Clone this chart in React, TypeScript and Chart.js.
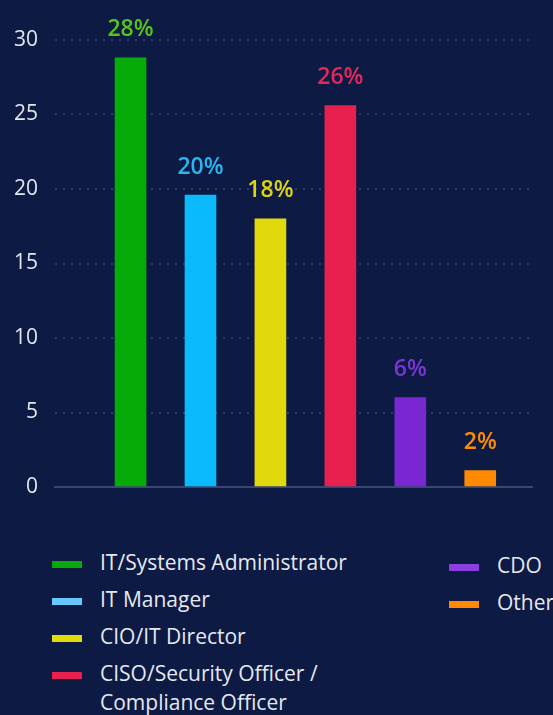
import React, { useEffect, useRef } from "react";
import { Chart, registerables } from "chart.js";

Chart.register(...registerables);

const categories = [
  "IT/Systems Administrator",
  "IT Manager",
  "CIO/IT Director",
  "CISO/Security Officer / Compliance Officer",
  "CDO",
  "Other",
];
const barValues = [28.8, 19.6, 18.0, 25.6, 6.0, 1.1];
const valueLabels = ["28%", "20%", "18%", "26%", "6%", "2%"];
const barColors = ["#07ab07", "#0bbafc", "#e0d90b", "#e8204e", "#7b27d1", "#ff8a00"];
const labelColors = ["#58c21c", "#2ab4f0", "#dbd40e", "#e3285a", "#7a35d6", "#ff8c00"];
const legendColors = ["#08a808", "#66c8ff", "#e0dc0a", "#e8204e", "#8b3fe3", "#ff8800"];
const yTicks = [0, 5, 10, 15, 20, 25, 30];

const BG = "#0c1a44";
const FONT = "'Open Sans', 'Noto Sans', sans-serif";

const valueLabelPlugin = {
  id: "valueLabels",
  afterDatasetsDraw(chart: any) {
    const ctx = chart.ctx;
    const meta = chart.getDatasetMeta(0);
    ctx.save();
    ctx.font = `600 23px ${FONT}`;
    ctx.textAlign = "center";
    ctx.textBaseline = "middle";
    meta.data.forEach((bar: any, i: number) => {
      ctx.fillStyle = labelColors[i];
      ctx.fillText(valueLabels[i], bar.x, bar.y - 28);
    });
    ctx.restore();
  },
};

function BarChart() {
  const ref = useRef<HTMLCanvasElement | null>(null);
  useEffect(() => {
    if (!ref.current) return;
    const chart = new Chart(ref.current, {
      type: "bar",
      data: {
        datasets: [
          {
            label: "Share",
            data: barValues.map((v, i) => ({ x: i, y: v })),
            backgroundColor: barColors,
            borderWidth: 0,
            barThickness: 31,
          },
        ],
      },
      options: {
        responsive: false,
        animation: false,
        layout: { padding: { top: 40, bottom: 33, left: 0, right: 21 } },
        plugins: { legend: { display: false }, tooltip: { enabled: false } },
        scales: {
          x: {
            type: "linear",
            offset: false,
            min: -1.08,
            max: 5.74,
            ticks: { display: false },
            grid: { display: false },
            border: { display: true, color: "#3a4670", width: 2 },
            afterFit: (s: any) => {
              s.height = 0;
            },
          },
          y: {
            min: 0,
            max: 30,
            afterBuildTicks: (s: any) => {
              s.ticks = yTicks.map((v) => ({ value: v }));
            },
            ticks: {
              color: "#e4e6ee",
              font: { family: FONT, size: 21 },
              padding: 17,
            },
            grid: {
              drawTicks: false,
              lineWidth: 2,
              color: (c: any) => (c.tick && c.tick.value === 0 ? "rgba(0,0,0,0)" : "#2a3968"),
            },
            border: { display: false, dash: [2, 6] },
            afterFit: (s: any) => {
              s.width = 55;
            },
          },
        },
      },
      plugins: [valueLabelPlugin],
    });
    return () => chart.destroy();
  }, []);
  return <canvas ref={ref} width={553} height={520} style={{ display: "block" }} />;
}

function LegendItem({ i, wrap }: { i: number; wrap: boolean }) {
  return (
    <div style={{ display: "flex", alignItems: "flex-start", marginBottom: 8 }}>
      <div
        style={{
          width: 30,
          height: 7,
          background: legendColors[i],
          marginTop: 13,
          marginRight: 18,
          flex: "none",
        }}
      />
      <div
        style={{
          width: wrap ? 300 : undefined,
          whiteSpace: wrap ? "normal" : "nowrap",
          lineHeight: "29px",
        }}
      >
        {categories[i]}
      </div>
    </div>
  );
}

export default function App() {
  return (
    <div
      style={{
        position: "fixed",
        left: 0,
        top: 0,
        width: 553,
        height: 715,
        background: BG,
        overflow: "hidden",
        fontFamily: FONT,
        color: "#e6e8f0",
        fontSize: 21,
      }}
    >
      <BarChart />
      <div style={{ position: "absolute", left: 52, top: 548 }}>
        {[0, 1, 2, 3].map((i) => (
          <LegendItem key={i} i={i} wrap={true} />
        ))}
      </div>
      <div style={{ position: "absolute", left: 449, top: 551 }}>
        {[4, 5].map((i) => (
          <LegendItem key={i} i={i} wrap={false} />
        ))}
      </div>
    </div>
  );
}
